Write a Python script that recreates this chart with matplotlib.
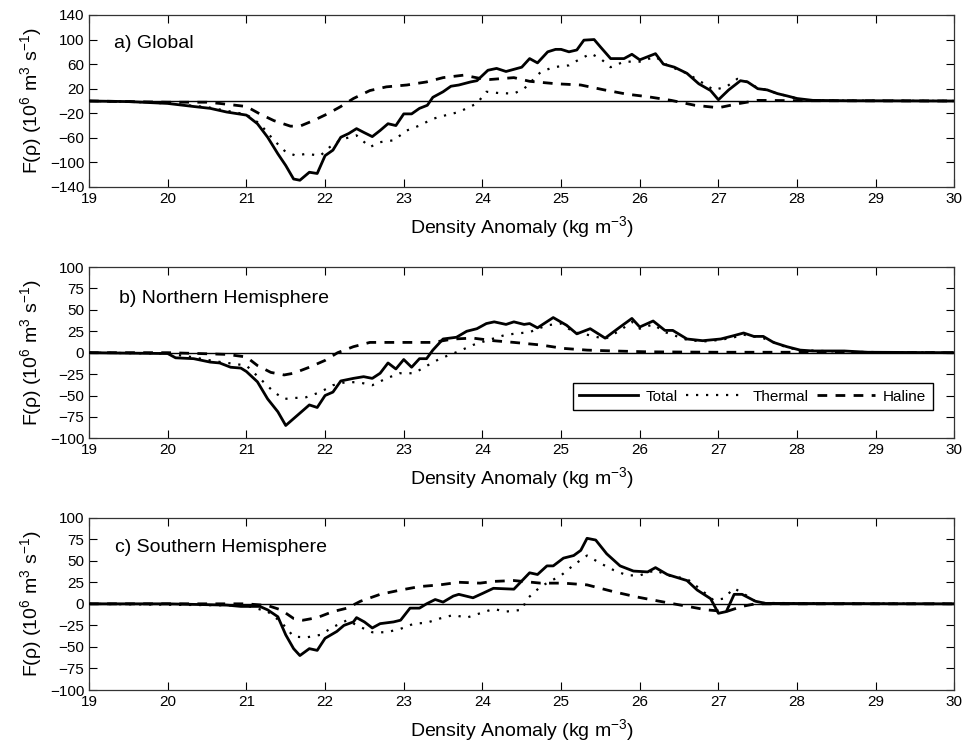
import matplotlib
matplotlib.use('Agg')
import matplotlib.pyplot as plt

# ---- data ----
# a) Global
glob_total_x = [19, 19.5, 20, 20.33, 20.54, 20.75, 21.0, 21.14, 21.27, 21.4, 21.5, 21.6, 21.68, 21.8, 21.9,
                22.0, 22.1, 22.2, 22.3, 22.4, 22.49, 22.6, 22.7, 22.8, 22.9, 23.0, 23.1, 23.2, 23.3, 23.37,
                23.5, 23.6, 23.7, 23.85, 23.93, 24.07, 24.18, 24.3, 24.5, 24.6, 24.7, 24.83, 24.93, 25.0,
                25.1, 25.2, 25.29, 25.42, 25.5, 25.63, 25.8, 25.9, 26.0, 26.2, 26.3, 26.44, 26.6, 26.75,
                26.9, 27.0, 27.13, 27.28, 27.37, 27.5, 27.62, 27.75, 27.88, 28.0, 28.2, 28.6, 30]
glob_total_y = [0, -1, -4, -9, -12, -18, -23, -37, -59, -86, -105, -127, -129, -116, -118,
                -89, -80, -59, -53, -45, -51, -58, -48, -37, -40, -21, -21, -12, -7, 6,
                15, 24, 26, 31, 33, 50, 53, 48, 55, 69, 62, 80, 84, 84,
                80, 83, 99, 100, 88, 69, 69, 76, 67, 77, 60, 55, 45, 28,
                17, 2, 18, 33, 31, 20, 18, 12, 8, 4, 1, 0.5, 0]
glob_thermal_x = [19, 19.5, 20, 20.5, 21.0, 21.17, 21.35, 21.5, 21.63, 21.76, 21.94, 22.06, 22.2, 22.4,
                  22.57, 22.7, 22.87, 23.04, 23.2, 23.37, 23.54, 23.7, 23.93, 24.05, 24.2, 24.4, 24.53,
                  24.74, 24.9, 25.1, 25.25, 25.38, 25.5, 25.63, 25.8, 26.0, 26.2, 26.35, 26.6, 26.78,
                  26.94, 27.1, 27.24, 27.37, 27.5, 27.62, 27.75, 27.88, 28.0, 28.2, 28.6, 30]
glob_thermal_y = [0, -1, -4, -10, -22, -37, -64, -83, -89, -86, -89, -75, -63, -56,
                  -75, -67, -64, -48, -40, -29, -23, -18, -4, 15, 13, 12, 20,
                  47, 55, 58, 69, 77, 69, 55, 64, 64, 72, 58, 45, 31,
                  18, 23, 36, 31, 21, 18, 12, 8, 4, 1, 0.5, 0]
glob_haline_x = [19, 19.5, 20, 20.5, 20.66, 21.0, 21.17, 21.35, 21.56, 21.68, 21.85, 22.03, 22.2, 22.36,
                 22.57, 22.78, 23.04, 23.29, 23.5, 23.76, 24.0, 24.1, 24.4, 24.6, 24.94, 25.25, 25.55,
                 25.84, 26.1, 26.4, 26.7, 27.0, 27.27, 27.5, 28.0, 30]
glob_haline_y = [0, -1, -2, -2, -4, -9, -21, -32, -41, -41, -32, -21, -9, 4,
                 17, 23, 26, 31, 38, 42, 36, 35, 38, 32, 28, 26, 18,
                 11, 7, 1, -7, -11, -4, 1, 0.5, 0]

# b) Northern Hemisphere
nh_total_x = [19, 19.5, 20.0, 20.1, 20.33, 20.54, 20.66, 20.8, 20.93, 21.0, 21.14, 21.27, 21.4, 21.5,
              21.65, 21.8, 21.9, 22.0, 22.1, 22.2, 22.36, 22.49, 22.6, 22.7, 22.8, 22.9, 23.0, 23.1,
              23.2, 23.29, 23.37, 23.5, 23.67, 23.8, 23.93, 24.05, 24.15, 24.3, 24.4, 24.53, 24.6,
              24.7, 24.9, 25.07, 25.2, 25.37, 25.56, 25.75, 25.9, 26.0, 26.17, 26.32, 26.42, 26.6,
              26.8, 27.03, 27.2, 27.32, 27.45, 27.57, 27.7, 27.87, 28.04, 28.2, 28.6, 28.9, 30]
nh_total_y = [0, -0.5, -1, -6, -7, -11, -12, -17, -18, -22, -34, -54, -69, -85,
              -73, -61, -64, -50, -46, -33, -30, -28, -30, -24, -12, -19, -8, -17,
              -7, -7, 3, 16, 18, 25, 28, 34, 36, 33, 36, 33, 34,
              29, 41, 32, 22, 28, 17, 30, 40, 30, 37, 26, 26, 16,
              14, 16, 20, 23, 19, 19, 12, 7, 3, 2, 2, 0.5, 0]
nh_thermal_x = [19, 20, 20.3, 20.6, 21.0, 21.17, 21.35, 21.48, 21.6, 21.76, 21.94, 22.1, 22.28, 22.45,
                22.6, 22.78, 22.95, 23.13, 23.3, 23.46, 23.71, 23.88, 24.05, 24.3, 24.6, 24.82, 25.0,
                25.16, 25.33, 25.56, 25.75, 25.9, 26.0, 26.17, 26.32, 26.6, 26.8, 27.03, 27.2, 27.32,
                27.57, 27.87, 28.04, 28.6, 30]
nh_thermal_y = [0, -1, -5, -10, -15, -30, -46, -54, -53, -52, -46, -38, -34, -35,
                -38, -30, -24, -24, -15, -7, 2, 9, 14, 21, 24, 32, 34,
                24, 21, 16, 26, 36, 28, 33, 24, 15, 13, 15, 18, 21,
                17, 6, 3, 1, 0]
nh_haline_x = [19, 20, 20.4, 20.75, 21.0, 21.14, 21.31, 21.48, 21.6, 21.8, 22.0, 22.16, 22.36, 22.57,
               22.87, 23.13, 23.37, 23.63, 23.88, 24.14, 24.4, 24.74, 25.03, 25.33, 25.67, 26.1, 27.0,
               28.0, 30]
nh_haline_y = [0, 0, -1, -2, -5, -15, -23, -26, -24, -17, -9, 0, 7, 12,
               12, 12, 12, 16, 17, 14, 12, 9, 5, 3, 2, 1, 0.5,
               0.5, 0]

# c) Southern Hemisphere
sh_total_x = [19, 20, 20.75, 20.93, 21.17, 21.27, 21.4, 21.5, 21.6, 21.68, 21.8, 21.9, 22.0, 22.15,
              22.24, 22.36, 22.4, 22.5, 22.6, 22.7, 22.87, 22.96, 23.08, 23.2, 23.29, 23.4, 23.5,
              23.63, 23.7, 23.88, 24.0, 24.14, 24.4, 24.6, 24.7, 24.82, 24.9, 25.03, 25.16, 25.25,
              25.33, 25.44, 25.58, 25.75, 25.92, 26.1, 26.2, 26.35, 26.6, 26.73, 26.9, 27.0, 27.1,
              27.2, 27.3, 27.47, 27.6, 30]
sh_total_y = [0, 0, -1.5, -3, -3, -7, -15, -36, -52, -60, -52, -54, -40, -32,
              -25, -21, -16, -21, -28, -23, -21, -19, -5, -5, 0, 5, 2,
              9, 11, 7, 12, 18, 17, 36, 34, 44, 44, 53, 56, 62,
              76, 74, 58, 44, 38, 37, 42, 34, 27, 16, 6, -11, -9,
              11, 11, 3, 0.5, 0]
sh_thermal_x = [19, 20, 21.0, 21.27, 21.44, 21.6, 21.76, 21.94, 22.1, 22.28, 22.45, 22.6, 22.78, 22.96,
                23.13, 23.29, 23.46, 23.63, 23.8, 23.97, 24.14, 24.3, 24.5, 24.57, 24.74, 25.0, 25.16,
                25.33, 25.5, 25.67, 25.84, 26.0, 26.2, 26.35, 26.6, 26.77, 26.94, 27.06, 27.2, 27.35,
                27.5, 30]
sh_thermal_y = [0, -1, -2, -9, -21, -38, -39, -36, -27, -19, -27, -33, -33, -29,
                -23, -22, -17, -13, -16, -11, -6, -9, -7, 6, 20, 33, 45,
                56, 47, 39, 33, 33, 39, 33, 29, 17, 4, 6, 18, 10,
                1, 0]
sh_haline_x = [19, 21.0, 21.27, 21.44, 21.6, 21.72, 21.9, 22.1, 22.28, 22.45, 22.7, 22.96, 23.2, 23.46,
               23.7, 23.97, 24.14, 24.4, 24.74, 25.03, 25.33, 25.67, 25.96, 26.25, 26.55, 26.85, 27.1,
               27.3, 27.47, 30]
sh_haline_y = [0, 0, -2, -7, -17, -19, -16, -9, -5, 3, 11, 16, 20, 22,
               25, 24, 26, 27, 24, 24, 22, 14, 8, 3, -2, -7, -9,
               -3, 0, 0]

panel_titles = ['a) Global', 'b) Northern Hemisphere', 'c) Southern Hemisphere']
yticks_a = [-140, -100, -60, -20, 20, 60, 100, 140]
yticks_bc = [-100, -75, -50, -25, 0, 25, 50, 75, 100]
xticks = list(range(19, 31))

plt.rcParams.update({
    'font.family': ['Liberation Sans', 'DejaVu Sans'],
    'mathtext.fontset': 'custom',
    'mathtext.rm': 'Liberation Sans',
    'mathtext.it': 'Liberation Sans:italic',
    'mathtext.default': 'regular',
    'font.size': 11,
})

fig = plt.figure(figsize=(9.68, 7.48), dpi=100)

positions = [
    [0.092, 0.750, 0.894, 0.230],
    [0.092, 0.414, 0.894, 0.229],
    [0.092, 0.0775, 0.894, 0.2305],
]
series = [
    (glob_total_x, glob_total_y, glob_thermal_x, glob_thermal_y, glob_haline_x, glob_haline_y),
    (nh_total_x, nh_total_y, nh_thermal_x, nh_thermal_y, nh_haline_x, nh_haline_y),
    (sh_total_x, sh_total_y, sh_thermal_x, sh_thermal_y, sh_haline_x, sh_haline_y),
]
label_pos = [(0.029, 0.837), (0.035, 0.817), (0.030, 0.824)]

for i in range(3):
    ax = fig.add_axes(positions[i])
    tx, ty, thx, thy, hx, hy = series[i]
    ax.axhline(0, color='black', lw=1.0, zorder=1)
    ax.plot(tx, ty, color='black', lw=2.0, ls='-', label='Total', zorder=3)
    ax.plot(thx, thy, color='black', lw=1.6, ls=(0, (1, 3.5)), label='Thermal', zorder=2)
    ax.plot(hx, hy, color='black', lw=2.0, ls=(0, (3.5, 3)), label='Haline', zorder=2)

    ax.set_xlim(19, 30)
    ax.set_xticks(xticks)
    if i == 0:
        ax.set_ylim(-140, 140)
        ax.set_yticks(yticks_a)
    else:
        ax.set_ylim(-100, 100)
        ax.set_yticks(yticks_bc)
    ax.tick_params(direction='in', top=True, right=True, length=6, width=0.8, labelsize=11)
    for sp in ax.spines.values():
        sp.set_linewidth(0.9)
        sp.set_color('#333333')

    ax.text(label_pos[i][0], label_pos[i][1], panel_titles[i], transform=ax.transAxes,
            fontsize=14, va='center', ha='left')
    ax.set_xlabel('Density Anomaly (kg m$^{-3}$)', fontsize=14, labelpad=6)
    ax.set_ylabel('F(\u03c1) (10$^6$ m$^3$ s$^{-1}$)', fontsize=14, labelpad=4)

    if i == 1:
        ax.legend(loc='lower right', bbox_to_anchor=(0.9754, 0.163), borderaxespad=0,
                  ncol=3, fancybox=False, framealpha=1, edgecolor='black',
                  handlelength=3.8, handletextpad=0.5, columnspacing=0.6,
                  borderpad=0.45, fontsize=11)

plt.savefig('out.png', dpi=100)
